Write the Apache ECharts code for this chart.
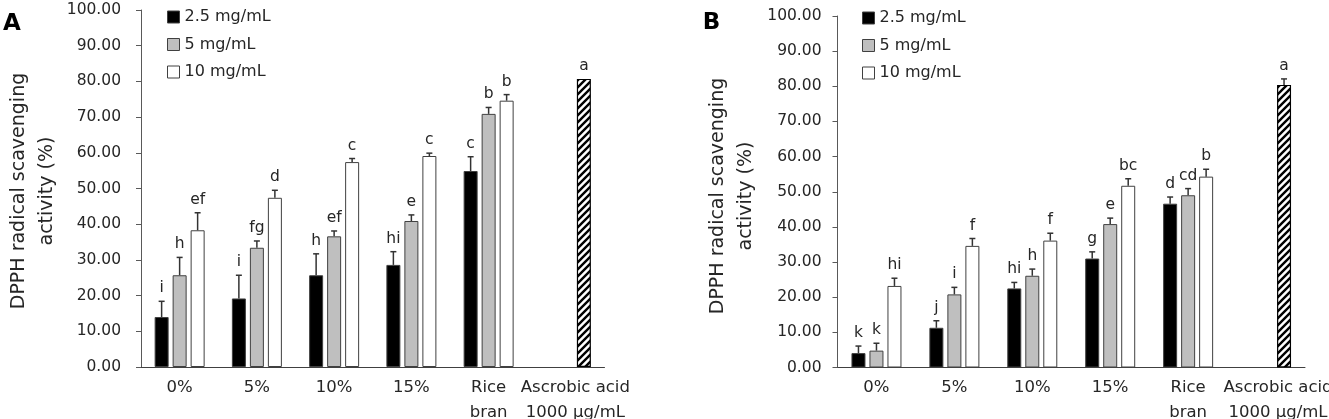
<!DOCTYPE html>
<html>
<head>
<meta charset="utf-8">
<script src="https://cdn.jsdelivr.net/npm/echarts@6/dist/echarts.min.js"></script>
<style>
  html, body { margin: 0; background: #fff; }
  #chart { width: 1329px; height: 419px; }
</style>
</head>
<body>
<div id="chart"></div>
<script>
// categories and series
const categories = ['0%', '5%', '10%', '15%', 'Rice\nbran', 'Ascrobic acid\n1000 μg/mL']
const seriesNames = ['2.5 mg/mL', '5 mg/mL', '10 mg/mL']
const yTicks = [0, 100, 10]

// panel A
const aLow = [14.0, 19.2, 25.7, 28.6, 54.9]
const aMid = [25.7, 33.4, 36.6, 40.9, 70.9]
const aHigh = [38.3, 47.4, 57.4, 59.1, 74.6]
const aLowErr = [4.4, 6.5, 6.0, 3.7, 4.0]
const aMidErr = [5.0, 1.9, 1.5, 1.7, 1.8]
const aHighErr = [4.9, 2.1, 1.0, 0.8, 1.7]
const aLowTxt = ['i', 'i', 'h', 'hi', 'c']
const aMidTxt = ['h', 'fg', 'ef', 'e', 'b']
const aHighTxt = ['ef', 'd', 'c', 'c', 'b']
const aAscorbic = [80.7, 0, 'a']

// panel B
const bLow = [4.1, 11.3, 22.5, 31.0, 46.6]
const bMid = [4.8, 20.8, 26.1, 40.8, 49.0]
const bHigh = [23.2, 34.6, 36.1, 51.7, 54.3]
const bLowErr = [2.0, 2.0, 1.7, 1.9, 1.9]
const bMidErr = [2.1, 2.0, 1.9, 1.7, 1.9]
const bHighErr = [2.2, 2.1, 2.1, 2.0, 2.1]
const bLowTxt = ['k', 'j', 'hi', 'g', 'd']
const bMidTxt = ['k', 'i', 'h', 'e', 'cd']
const bHighTxt = ['hi', 'f', 'f', 'bc', 'b']
const bAscorbic = [80.4, 1.7, 'a']

const FONT = 'DejaVu Sans'
const TXT = '#262626'
const EDGE = '#404040'
const BAR_W = 14
const SLOT = 18
const fills = ['#000000', '#bfbfbf', '#ffffff']

function hatch() {
  const c = document.createElement('canvas')
  c.width = 7
  c.height = 7
  const g = c.getContext('2d')
  g.fillStyle = '#fff'
  g.fillRect(0, 0, 7, 7)
  g.strokeStyle = '#000'
  g.lineWidth = 2.4
  g.beginPath()
  g.moveTo(-1, 8); g.lineTo(8, -1)
  g.moveTo(-1, 1); g.lineTo(1, -1)
  g.moveTo(6, 8); g.lineTo(8, 6)
  g.stroke()
  return c
}
const hatchImg = hatch()

function barSeries(idx, values, s, asc) {
  const data = values.slice()
  if (asc) {
    data.push({
      value: asc[0],
      itemStyle: { color: { image: hatchImg, repeat: 'repeat' }, borderColor: '#000', borderWidth: 1.2 }
    })
  } else {
    data.push(null)
  }
  return {
    name: seriesNames[s],
    type: 'bar',
    xAxisIndex: idx,
    yAxisIndex: idx,
    barWidth: BAR_W,
    barGap: ((SLOT - BAR_W) / BAR_W * 100) + '%',
    itemStyle: { color: fills[s], borderColor: EDGE, borderWidth: 1 },
    data: data
  }
}

function errorSeries(idx, groups, asc) {
  const rows = []
  const labels = []
  groups.forEach(function(gr, s) {
    gr[0].forEach(function(v, i) {
      rows.push([i, s, v, gr[1][i]])
      labels.push(gr[2][i])
    })
  })
  rows.push([5, 2, asc[0], asc[1]])
  labels.push(asc[2])
  return {
    type: 'custom',
    xAxisIndex: idx,
    yAxisIndex: idx,
    silent: true,
    z: 10,
    clip: false,
    encode: { x: 0, y: 2 },
    data: rows,
    renderItem: function(params, api) {
      const cat = api.value(0)
      const s = api.value(1)
      const v = api.value(2)
      const e = api.value(3)
      const top = api.coord([cat, v + e])
      const bot = api.coord([cat, v])
      const x = top[0] + (s - 1) * SLOT
      const children = []
      if (e > 0) {
        children.push({ type: 'line', shape: { x1: x, y1: bot[1], x2: x, y2: top[1] }, style: { stroke: '#333', lineWidth: 1.5 } })
        children.push({ type: 'line', shape: { x1: x - 3, y1: top[1], x2: x + 3, y2: top[1] }, style: { stroke: '#333', lineWidth: 1.5 } })
      }
      children.push({
        type: 'text',
        style: {
          text: labels[params.dataIndex], x: x, y: top[1] - 13,
          align: 'center', verticalAlign: 'middle',
          fontSize: 15.5, fontFamily: FONT, fill: TXT
        }
      })
      return { type: 'group', children: children }
    }
  }
}

function xAxis(idx, shift) {
  return {
    type: 'category',
    gridIndex: idx,
    data: categories,
    axisLine: { lineStyle: { color: EDGE, width: 1 } },
    axisTick: { show: false },
    axisLabel: {
      interval: 0,
      margin: 8,
      fontSize: 16.5,
      fontFamily: FONT,
      color: TXT,
      lineHeight: 25,
      formatter: function(v) {
        if (v.indexOf('Ascrobic') === 0) {
          return v.split('\n').map(function(t) { return '{shift|' + t + '}' }).join('\n')
        }
        return v
      },
      rich: {
        shift: { padding: [0, 0, 0, shift], fontSize: 16.5, fontFamily: FONT, color: TXT, lineHeight: 25 }
      }
    }
  }
}

function yAxis(idx, margin) {
  return {
    type: 'value',
    gridIndex: idx,
    min: yTicks[0],
    max: yTicks[1],
    interval: yTicks[2],
    axisLine: { show: true, lineStyle: { color: '#595959', width: 1 } },
    axisTick: { show: true, length: 5, lineStyle: { color: '#595959' } },
    splitLine: { show: false },
    axisLabel: {
      margin: margin,
      fontSize: 15.5,
      fontFamily: FONT,
      color: TXT,
      formatter: function(v) { return v.toFixed(2) }
    }
  }
}

function legend(left, top) {
  return {
    data: seriesNames,
    orient: 'vertical',
    left: left,
    top: top,
    padding: 0,
    itemWidth: 12,
    itemHeight: 12,
    itemGap: 11.5,
    icon: 'rect',
    selectedMode: false,
    itemStyle: { borderColor: EDGE, borderWidth: 1 },
    textStyle: { fontSize: 16, fontFamily: FONT, color: TXT, lineHeight: 14, padding: [0, 0, 0, 0] }
  }
}

function yTitle(x, y) {
  return {
    type: 'text',
    x: x,
    y: y,
    rotation: Math.PI / 2,
    style: {
      text: 'DPPH radical scavenging\nactivity (%)',
      align: 'center',
      verticalAlign: 'middle',
      fontSize: 19,
      lineHeight: 28,
      fontFamily: FONT,
      fill: TXT
    }
  }
}

const chart = echarts.init(document.getElementById('chart'))

chart.setOption({
  animation: false,
  backgroundColor: '#fff',
  grid: [
    { left: 141, top: 10, width: 463.5, height: 357, containLabel: false, outerBoundsMode: 'none' },
    { left: 837.5, top: 16, width: 467.5, height: 351.5, containLabel: false, outerBoundsMode: 'none' }
  ],
  xAxis: [xAxis(0, 19), xAxis(1, 24)],
  yAxis: [yAxis(0, 20), yAxis(1, 16)],
  legend: [legend(167, 9), legend(862, 10)],
  graphic: [
    { type: 'text', x: 12, y: 24, style: { text: 'A', align: 'center', verticalAlign: 'middle', fontSize: 23, fontWeight: 'bold', fontFamily: FONT, fill: '#000' } },
    { type: 'text', x: 711.5, y: 23, style: { text: 'B', align: 'center', verticalAlign: 'middle', fontSize: 23, fontWeight: 'bold', fontFamily: FONT, fill: '#000' } },
    yTitle(33, 191),
    yTitle(732, 196)
  ],
  series: [
    barSeries(0, aLow, 0),
    barSeries(0, aMid, 1),
    barSeries(0, aHigh, 2, aAscorbic),
    errorSeries(0, [[aLow, aLowErr, aLowTxt], [aMid, aMidErr, aMidTxt], [aHigh, aHighErr, aHighTxt]], aAscorbic),
    barSeries(1, bLow, 0),
    barSeries(1, bMid, 1),
    barSeries(1, bHigh, 2, bAscorbic),
    errorSeries(1, [[bLow, bLowErr, bLowTxt], [bMid, bMidErr, bMidTxt], [bHigh, bHighErr, bHighTxt]], bAscorbic)
  ]
})
</script>
</body>
</html>
